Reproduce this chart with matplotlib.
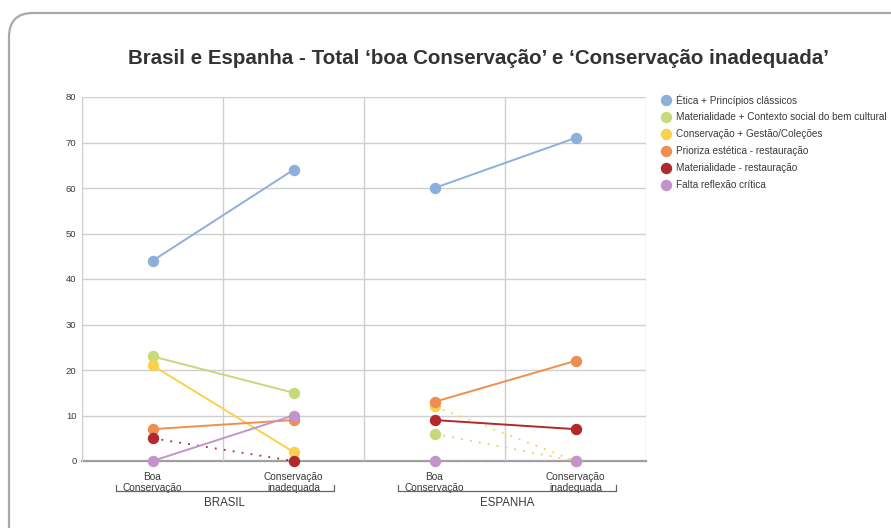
import matplotlib
matplotlib.use("Agg")
import matplotlib.pyplot as plt
from matplotlib.lines import Line2D
from matplotlib.patches import FancyBboxPatch
import matplotlib.transforms as mtransforms

plt.rcParams['font.family'] = ['Liberation Sans', 'DejaVu Sans']

title = "Brasil e Espanha - Total \u2018boa Conservação\u2019 e \u2018Conservação inadequada\u2019"
categories = ["Boa\nConservação", "Conservação\ninadequada", "Boa\nConservação", "Conservação\ninadequada"]
groups = ["BRASIL", "ESPANHA"]

series_names = [
    "Ética + Princípios clássicos",
    "Materialidade + Contexto social do bem cultural",
    "Conservação + Gestão/Coleções",
    "Prioriza estética - restauração",
    "Materialidade - restauração",
    "Falta reflexão crítica",
]
etica = [44, 64, 60, 71]
materialidade_contexto = [23, 15, 6, 0]
conservacao_gestao = [21, 2, 12, 0]
prioriza_estetica = [7, 9, 13, 22]
materialidade_rest = [5, 0, 9, 7]
falta_reflexao = [0, 10, 0, 0]
series_values = [etica, materialidade_contexto, conservacao_gestao,
                 prioriza_estetica, materialidade_rest, falta_reflexao]
# segment style per group (Brasil, Espanha): True = dotted
dotted = [
    (False, False),
    (False, True),
    (False, True),
    (False, False),
    (True, False),
    (False, True),
]
colors = ["#8eafdc", "#c6da7c", "#f9d14c", "#ee8f52", "#b1292d", "#c393cb"]

W, H = 891, 528
fig = plt.figure(figsize=(W / 100, H / 100), dpi=100)

# background rounded border
bg = fig.add_axes([0, 0, 1, 1], zorder=-5)
bg.set_xlim(0, W)
bg.set_ylim(H, 0)
bg.axis('off')
box = FancyBboxPatch((9, 13), 920, 560, boxstyle="round,pad=0,rounding_size=24",
                     fc="white", ec="#a8a8a8", lw=1.6, clip_on=False)
bg.add_patch(box)

left, right, top, bottom = 82, 646, 97, 461
ax = fig.add_axes([left / W, 1 - bottom / H, (right - left) / W, (bottom - top) / H])
ax.set_xlim(0, 8)
ax.set_ylim(0, 80)
ax.set_yticks(range(0, 81, 10))
ax.set_xticks(range(0, 9), minor=True)
ax.set_xticks([1, 3, 5, 7])
ax.set_xticklabels(categories, fontsize=7.3, color="#3a3a3a", linespacing=1.05)
ax.tick_params(axis='x', which='both', length=0, pad=8)
ax.tick_params(axis='y', length=0, pad=4, labelsize=6.8, labelcolor="#3a3a3a")
ax.grid(True, which='major', axis='y', color="#cfcfcf", lw=1.0, zorder=0)
ax.grid(True, which='minor', axis='x', color="#cfcfcf", lw=1.0, zorder=0)
ax.grid(False, which='major', axis='x')
for s in ['top', 'right']:
    ax.spines[s].set_visible(False)
ax.spines['left'].set_color("#cfcfcf")
ax.spines['bottom'].set_color("#9a9a9a")
ax.spines['bottom'].set_linewidth(1.6)
ax.spines['bottom'].set_zorder(1)

xs = [1, 3, 5, 7]
for i, (vals, col) in enumerate(zip(series_values, colors)):
    for g in range(2):
        x2 = xs[2 * g:2 * g + 2]
        y2 = vals[2 * g:2 * g + 2]
        if dotted[i][g]:
            ax.plot(x2, y2, color=col, lw=1.3, ls=(0, (1, 4)), zorder=3 + i,
                    clip_on=False)
        else:
            ax.plot(x2, y2, color=col, lw=1.4, zorder=3 + i, clip_on=False)
    ax.plot(xs, vals, ls='none', marker='o', ms=7.2, color=col, mec=col,
            zorder=3 + i, clip_on=False)

# group brackets
tr = mtransforms.blended_transform_factory(ax.transData, ax.transAxes)
yb = -(491 - bottom) / (bottom - top)
yt = -(485 - bottom) / (bottom - top)
ylab = -(503 - bottom) / (bottom - top)
for g, name in enumerate(groups):
    x0, x1 = 0.48 + 4 * g, 3.57 + 4 * g
    ax.plot([x0, x0, x1, x1], [yt, yb, yb, yt], transform=tr, color="#666666",
            lw=0.9, clip_on=False)
    ax.text((x0 + x1) / 2, ylab, name, transform=tr, ha='center', va='center',
            fontsize=8.3, color="#3a3a3a")

fig.text(478 / W, 1 - 58 / H, title, ha='center', va='center', fontsize=14.8,
         fontweight='bold', color="#333333")

handles = [Line2D([], [], ls='none', marker='o', ms=7.2, color=c) for c in colors]
leg = fig.legend(handles, series_names, loc='upper left',
                 bbox_to_anchor=(663 / W, 1 - 94 / H), frameon=False,
                 fontsize=7.2, handlelength=0.6, handletextpad=0.7,
                 labelspacing=0.69, borderpad=0, borderaxespad=0)
for t in leg.get_texts():
    t.set_color("#3a3a3a")

fig.savefig("out.png", dpi=100)
